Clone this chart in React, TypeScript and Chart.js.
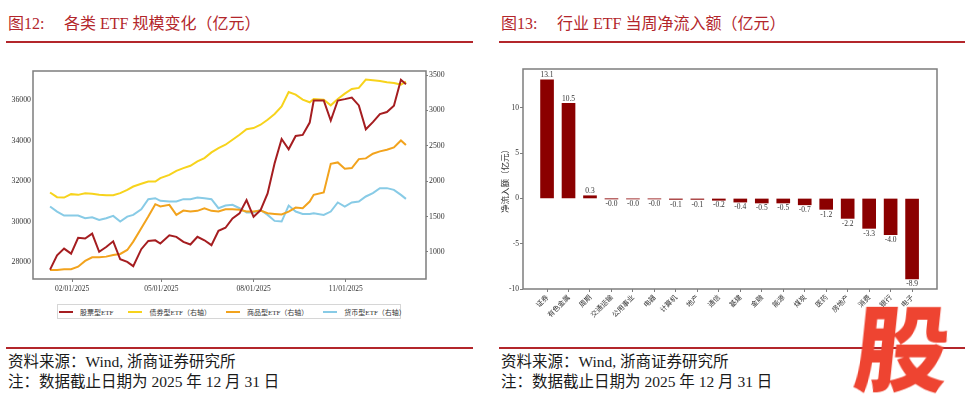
import React, { useEffect, useRef } from "react";
import { Chart, registerables } from "chart.js";

Chart.register(...registerables);

// ---------- Figure 12 data ----------
const weekDates = [
  "2025-01-10", "2025-01-17", "2025-01-24", "2025-01-31", "2025-02-07", "2025-02-14", "2025-02-21", "2025-02-28",
  "2025-03-07", "2025-03-14", "2025-03-21", "2025-03-28", "2025-04-03", "2025-04-11", "2025-04-18", "2025-04-25",
  "2025-04-30", "2025-05-09", "2025-05-16", "2025-05-23", "2025-05-30", "2025-06-06", "2025-06-13", "2025-06-20",
  "2025-06-27", "2025-07-04", "2025-07-11", "2025-07-18", "2025-07-25", "2025-08-01", "2025-08-08", "2025-08-15",
  "2025-08-22", "2025-08-29", "2025-09-05", "2025-09-12", "2025-09-19", "2025-09-26", "2025-09-30", "2025-10-10",
  "2025-10-17", "2025-10-24", "2025-10-31", "2025-11-07", "2025-11-14", "2025-11-21", "2025-11-28", "2025-12-05",
  "2025-12-12", "2025-12-19", "2025-12-26", "2025-12-31",
];

const stockEtf = [
  27620, 28330, 28660, 28410, 29190, 29160, 29400, 28500, 28740, 29020,
  28130, 28000, 27790, 28630, 29040, 29070, 28910, 29320, 29240, 28990,
  28860, 29240, 29070, 28830, 29540, 29690, 30150, 30400, 31060, 30230,
  30560, 31390, 32880, 34080, 33570, 34230, 34280, 34890, 35980, 35980,
  34990, 35980, 36050, 36130, 35740, 34560, 34910, 35310, 35410, 35720,
  37010, 36790,
];

const bondEtf = [
  1840, 1774, 1769, 1817, 1807, 1831, 1821, 1807, 1802, 1802,
  1831, 1878, 1925, 1963, 1996, 1996, 2043, 2090, 2147, 2185,
  2218, 2279, 2326, 2407, 2468, 2515, 2586, 2657, 2735, 2751,
  2798, 2869, 2949, 3058, 3261, 3223, 3152, 3115, 3162, 3152,
  3072, 3162, 3237, 3303, 3318, 3436, 3426, 3417, 3398, 3388,
  3365, 3407,
];

const commodityEtf = [
  745, 745, 755, 755, 792, 873, 924, 924, 934, 958,
  972, 1028, 1146, 1335, 1500, 1675, 1642, 1666, 1524, 1585,
  1571, 1581, 1618, 1581, 1571, 1604, 1604, 1595, 1571, 1571,
  1585, 1548, 1538, 1529, 1571, 1628, 1618, 1713, 1807, 1840,
  2246, 2265, 2175, 2185, 2312, 2322, 2388, 2421, 2444, 2477,
  2576, 2510,
];

const moneyEtf = [
  1642, 1571, 1514, 1514, 1514, 1477, 1491, 1453, 1477, 1510,
  1430, 1500, 1524, 1604, 1746, 1760, 1722, 1713, 1713, 1746,
  1746, 1769, 1760, 1746, 1618, 1656, 1666, 1618, 1557, 1557,
  1595, 1524, 1439, 1430, 1656, 1571, 1538, 1538, 1548, 1524,
  1571, 1699, 1642, 1699, 1713, 1784, 1831, 1902, 1902, 1878,
  1807, 1750,
];

const seriesNames = ["股票型ETF", "债券型ETF（右轴）", "商品型ETF（右轴）", "货币型ETF（右轴）"];
const seriesColors = ["#a51d20", "#f7d31c", "#f2a31d", "#88cbe6"];
const xTickDates = ["2025-02-01", "2025-05-01", "2025-08-01", "2025-11-01"];
const xRange = ["2024-12-24", "2026-01-20"];
const leftTicks = [28000, 30000, 32000, 34000, 36000];
const rightTicks = [1000, 1500, 2000, 2500, 3000, 3500];

// ---------- Figure 13 data ----------
const industries = [
  "证券", "有色金属", "周期", "交通运输", "公用事业", "电器", "计算机", "地产", "通信",
  "基建", "金融", "能源", "煤炭", "医药", "房地产", "消费", "银行", "电子",
];
const flows = [13.1, 10.5, 0.3, -0.03, -0.04, -0.04, -0.1, -0.1, -0.2, -0.4, -0.5, -0.5, -0.7, -1.2, -2.2, -3.3, -4.0, -8.9];
const flowTicks = [-10, -5, 0, 5, 10];

// ---------- styling ----------
const SERIF = '"Liberation Serif", "Noto Sans CJK SC", serif';
const CJK = '"Noto Sans CJK SC", sans-serif';
const RED = "#b3262b";
const AXIS = "#7d7d7d";
const TXT = "#333333";

const dayNum = (s: string) => {
  const [y, m, d] = s.split("-").map(Number);
  return Date.UTC(y, m - 1, d) / 86400000;
};
const fmtDay = (v: number) => {
  const dt = new Date(Math.round(v) * 86400000);
  const mm = String(dt.getUTCMonth() + 1).padStart(2, "0");
  const dd = String(dt.getUTCDate()).padStart(2, "0");
  return `${mm}/${dd}/${dt.getUTCFullYear()}`;
};
const plain = (v: any) => String(Number(v));

const frame = {
  id: "frame",
  afterDraw(chart: any) {
    const { ctx, chartArea: a } = chart;
    ctx.save();
    ctx.strokeStyle = AXIS;
    ctx.lineWidth = 1.5;
    ctx.strokeRect(a.left, a.top, a.right - a.left, a.bottom - a.top);
    ctx.restore();
  },
};

const barLabels = {
  id: "barLabels",
  afterDatasetsDraw(chart: any) {
    const { ctx } = chart;
    const meta = chart.getDatasetMeta(0);
    ctx.save();
    ctx.font = `7.5px ${SERIF}`;
    ctx.fillStyle = TXT;
    ctx.textAlign = "center";
    meta.data.forEach((bar: any, i: number) => {
      const v = flows[i];
      const t = v.toFixed(1);
      if (v >= 0) {
        ctx.textBaseline = "bottom";
        ctx.fillText(t, bar.x, bar.y - 1);
      } else {
        ctx.textBaseline = "top";
        ctx.fillText(t, bar.x, bar.y + 1.5);
      }
    });
    ctx.restore();
  },
};

function LineChart() {
  const ref = useRef<HTMLCanvasElement>(null);
  useEffect(() => {
    const series = [stockEtf, bondEtf, commodityEtf, moneyEtf];
    const chart = new Chart(ref.current as HTMLCanvasElement, {
      type: "line",
      data: {
        datasets: series.map((s, k) => ({
          label: seriesNames[k],
          data: weekDates.map((d, i) => ({ x: dayNum(d), y: s[i] })),
          borderColor: seriesColors[k],
          backgroundColor: seriesColors[k],
          borderWidth: 2,
          pointRadius: 0,
          tension: 0,
          yAxisID: k === 0 ? "y" : "y1",
        })),
      },
      options: {
        animation: false,
        responsive: false,
        layout: { padding: { top: 21, right: 26, left: 0, bottom: 0 } },
        plugins: { legend: { display: false }, tooltip: { enabled: false } },
        scales: {
          x: {
            type: "linear",
            min: dayNum(xRange[0]),
            max: dayNum(xRange[1]),
            afterBuildTicks: (s: any) => {
              s.ticks = xTickDates.map((d) => ({ value: dayNum(d) }));
            },
            afterFit: (s: any) => {
              s.height = 21;
            },
            ticks: {
              callback: (v: any) => fmtDay(Number(v)),
              autoSkip: false,
              maxRotation: 0,
              padding: 3,
              color: TXT,
              font: { family: SERIF, size: 7.5 },
            },
            grid: { drawOnChartArea: false, tickLength: 3, color: AXIS },
            border: { display: false },
          },
          y: {
            position: "left",
            min: 27156,
            max: 37440,
            afterBuildTicks: (s: any) => {
              s.ticks = leftTicks.map((v) => ({ value: v }));
            },
            afterFit: (s: any) => {
              s.width = 33;
            },
            ticks: { callback: plain, padding: 2, color: TXT, font: { family: SERIF, size: 7.8 } },
            grid: { drawOnChartArea: false, drawTicks: false, color: AXIS },
            border: { display: false },
          },
          y1: {
            position: "right",
            min: 618,
            max: 3557,
            afterBuildTicks: (s: any) => {
              s.ticks = rightTicks.map((v) => ({ value: v }));
            },
            afterFit: (s: any) => {
              s.width = 32;
            },
            ticks: { callback: plain, padding: 1, color: TXT, font: { family: SERIF, size: 7.8 } },
            grid: { drawOnChartArea: false, tickLength: 2, color: AXIS },
            border: { display: false },
          },
        },
      },
      plugins: [frame],
    } as any);
    return () => chart.destroy();
  }, []);
  return (
    <canvas
      ref={ref}
      width={484}
      height={250}
      style={{ position: "absolute", left: 0, top: 50, width: 484, height: 250 }}
    />
  );
}

function BarChart() {
  const ref = useRef<HTMLCanvasElement>(null);
  useEffect(() => {
    const chart = new Chart(ref.current as HTMLCanvasElement, {
      type: "bar",
      data: {
        datasets: [
          {
            label: "净流入额",
            data: industries.map((c, i) => ({ x: i, y: flows[i] })),
            backgroundColor: "#8b0000",
            barThickness: 13,
          },
        ],
      },
      options: {
        animation: false,
        responsive: false,
        layout: { padding: { top: 19, right: 31, left: 0, bottom: 0 } },
        plugins: { legend: { display: false }, tooltip: { enabled: false } },
        scales: {
          x: {
            type: "linear",
            offset: false,
            min: -1.12,
            max: 18.16,
            afterBuildTicks: (s: any) => {
              s.ticks = industries.map((_, i) => ({ value: i }));
            },
            afterFit: (s: any) => {
              s.height = 51;
            },
            ticks: {
              callback: (v: any) => industries[Number(v)] ?? "",
              autoSkip: false,
              minRotation: 45,
              maxRotation: 45,
              padding: 1,
              color: TXT,
              font: { family: CJK, size: 7 },
            },
            grid: { drawOnChartArea: false, offset: false, tickLength: 3, color: AXIS },
            border: { display: false },
          },
          y: {
            min: -10,
            max: 14.3,
            afterBuildTicks: (s: any) => {
              s.ticks = flowTicks.map((v) => ({ value: v }));
            },
            afterFit: (s: any) => {
              s.width = 33;
            },
            title: {
              display: true,
              text: "净流入额（亿元）",
              color: TXT,
              font: { family: CJK, size: 8.5 },
              padding: { top: 10, bottom: 0 },
            },
            ticks: { callback: plain, padding: 1, color: TXT, font: { family: SERIF, size: 7.5 } },
            grid: { drawOnChartArea: false, tickLength: 3, color: AXIS },
            border: { display: false },
          },
        },
      },
      plugins: [frame, barLabels],
    } as any);
    return () => chart.destroy();
  }, []);
  return (
    <canvas
      ref={ref}
      width={478}
      height={290}
      style={{ position: "absolute", left: 490, top: 50, width: 478, height: 290 }}
    />
  );
}

const abs = (o: any) => ({ position: "absolute" as const, ...o });

function Panel({ x, w, num, title }: { x: number; w: number; num: string; title: string }) {
  return (
    <>
      <div style={abs({ left: x + 2, top: 14, fontSize: 16, lineHeight: "20px", color: RED, fontFamily: SERIF, whiteSpace: "nowrap" })}>
        {num}
      </div>
      <div style={abs({ left: x + 58, top: 14, fontSize: 16, lineHeight: "20px", color: RED, fontFamily: SERIF, whiteSpace: "nowrap" })}>
        {title}
      </div>
      <div style={abs({ left: x, top: 41, width: w, height: 1.5, background: RED })} />
      <div style={abs({ left: x, top: 347, width: w, height: 1.5, background: RED })} />
      <div style={abs({ left: x + 2, top: 352, fontSize: 15.5, lineHeight: "20px", color: "#1a1a1a", fontFamily: SERIF, whiteSpace: "nowrap" })}>
        资料来源：Wind, 浙商证券研究所
      </div>
      <div style={abs({ left: x + 2, top: 372, fontSize: 15.5, lineHeight: "20px", color: "#1a1a1a", fontFamily: SERIF, whiteSpace: "nowrap" })}>
        注：数据截止日期为 2025 年 12 月 31 日
      </div>
    </>
  );
}

function Legend() {
  return (
    <div
      style={abs({
        left: 57,
        top: 304,
        width: 344,
        height: 15,
        boxSizing: "border-box",
        border: "1px solid #d6d6d6",
        display: "flex",
        alignItems: "center",
        paddingLeft: 1,
        gap: 15,
      })}
    >
      {seriesNames.map((n, k) => (
        <div key={n} style={{ display: "flex", alignItems: "center" }}>
          <span style={{ display: "inline-block", width: 14, height: 2, background: seriesColors[k] }} />
          <span style={{ marginLeft: 7, fontSize: 7, color: TXT, fontFamily: SERIF, whiteSpace: "nowrap" }}>{n}</span>
        </div>
      ))}
    </div>
  );
}

export default function App() {
  useEffect(() => {
    document.body.style.margin = "0";
    document.body.style.background = "#ffffff";
  }, []);
  return (
    <div style={abs({ left: 0, top: 0, width: 968, height: 397, overflow: "hidden", background: "#fff" })}>
      <Panel x={6} w={467} num="图12:" title="各类 ETF 规模变化（亿元）" />
      <Panel x={499} w={466} num="图13:" title="行业 ETF 当周净流入额（亿元）" />
      <LineChart />
      <Legend />
      <BarChart />
      <div
        style={abs({
          left: 856,
          top: 296,
          fontSize: 94,
          lineHeight: "94px",
          fontWeight: 900,
          color: "#ee4431",
          fontFamily: CJK,
          transform: "skewX(-6deg)",
        })}
      >
        股
      </div>
    </div>
  );
}
